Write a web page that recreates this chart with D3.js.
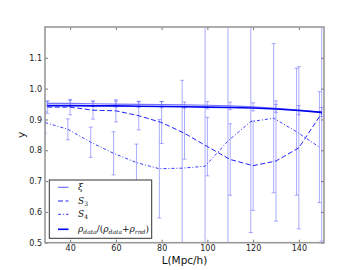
<!DOCTYPE html>
<html lang="en">
<head>
<meta charset="UTF-8">
<title>xi S3 S4</title>
<script src="https://d3js.org/d3.v7.min.js"></script>
<style>
    body { margin: 0; background: #fff; }
    .axis text { font-family: "DejaVu Sans", sans-serif; font-size: 8px; fill: #222; }
    .axis line { stroke: #777; }
    .axis path { display: none; }
</style>
</head>
<body>
<script>
    // data
    const Lvals = [30, 40, 50, 60, 70, 80, 90, 100, 110, 120, 130, 140, 150]
    const xi = [0.952, 0.952, 0.951, 0.950, 0.949, 0.948, 0.947, 0.946, 0.944, 0.941, 0.936, 0.930, 0.924]
    const xiErr = [0.007, 0.010, 0.009, 0.010, 0.010, 0.010, 0.010, 0.012, 0.012, 0.013, 0.013, 0.015, 0.015]
    const s3 = [0.940, 0.940, 0.930, 0.928, 0.912, 0.890, 0.855, 0.812, 0.770, 0.750, 0.765, 0.808, 0.920]
    const s3Err = [0.020, 0.025, 0.029, 0.036, 0.046, 0.068, 0.084, 0.095, 0.116, 0.145, 0.195, 0.263, 0.415]
    const s4 = [0.890, 0.868, 0.826, 0.790, 0.760, 0.740, 0.742, 0.748, 0.830, 0.893, 0.904, 0.860, 0.810]
    const s4Err = [0.035, 0.034, 0.049, 0.070, 0.060, 0.160, 0.285, 0.500, 0.500, 0.360, 0.242, 0.206, 0.180]
    const rho = [0.945, 0.945, 0.944, 0.944, 0.943, 0.942, 0.941, 0.940, 0.939, 0.937, 0.934, 0.929, 0.923]
    const xTicks = [40, 60, 80, 100, 120, 140]
    const yTicks = [0.5, 0.6, 0.7, 0.8, 0.9, 1.0, 1.1]
    const s4Shift = -1

    const width = 360
    const height = 270
    const pLeft = 45, pRight = 324, pTop = 27, pBottom = 242.7

    const x = d3.scaleLinear().domain([29, 151]).range([pLeft, pRight])
    const y = d3.scaleLinear().domain([0.5, 1.2]).range([pBottom, pTop])

    const svg = d3.select("body").append("svg")
        .attr("width", width)
        .attr("height", height)

    svg.append("clipPath").attr("id", "clip")
        .append("rect")
        .attr("x", pLeft).attr("y", pTop)
        .attr("width", pRight - pLeft).attr("height", pBottom - pTop)

    const plot = svg.append("g").attr("clip-path", "url(#clip)")

    const barColor = "rgba(90,90,255,0.5)"

    function errorbars(xs, vals, errs) {
        const g = plot.append("g")
            .attr("stroke", barColor)
            .attr("stroke-width", 1)
        g.selectAll("line.v").data(vals).enter().append("line")
            .attr("x1", (d, i) => x(xs[i]))
            .attr("x2", (d, i) => x(xs[i]))
            .attr("y1", (d, i) => y(d - errs[i]))
            .attr("y2", (d, i) => y(d + errs[i]))
        g.selectAll("line.lo").data(vals).enter().append("line")
            .attr("x1", (d, i) => x(xs[i]) - 2)
            .attr("x2", (d, i) => x(xs[i]) + 2)
            .attr("y1", (d, i) => y(d - errs[i]))
            .attr("y2", (d, i) => y(d - errs[i]))
        g.selectAll("line.hi").data(vals).enter().append("line")
            .attr("x1", (d, i) => x(xs[i]) - 2)
            .attr("x2", (d, i) => x(xs[i]) + 2)
            .attr("y1", (d, i) => y(d + errs[i]))
            .attr("y2", (d, i) => y(d + errs[i]))
    }

    const s4x = Lvals.map(d => d + s4Shift)
    errorbars(Lvals, xi, xiErr)
    errorbars(Lvals, s3, s3Err)
    errorbars(s4x, s4, s4Err)

    function series(xs, vals, color, w, dash) {
        const line = d3.line()
            .x((d, i) => x(xs[i]))
            .y(d => y(d))
        plot.append("path")
            .datum(vals)
            .attr("d", line)
            .attr("fill", "none")
            .attr("stroke", color)
            .attr("stroke-width", w)
            .attr("stroke-dasharray", dash)
    }

    const styles = [
        {color: "#7373ff", w: 1.2, dash: null},
        {color: "#2020ff", w: 1, dash: "5,2.5"},
        {color: "#3a3aff", w: 1, dash: "3,2,1,2"},
        {color: "#0000f0", w: 1.6, dash: null}
    ]
    series(Lvals, xi, styles[0].color, styles[0].w, styles[0].dash)
    series(Lvals, s3, styles[1].color, styles[1].w, styles[1].dash)
    series(s4x, s4, styles[2].color, styles[2].w, styles[2].dash)
    series(Lvals, rho, styles[3].color, styles[3].w, styles[3].dash)

    // axes, ticks pointing inward
    svg.append("g").attr("class", "axis")
        .attr("transform", "translate(0," + pBottom + ")")
        .call(d3.axisBottom(x).tickValues(xTicks).tickSize(-3).tickPadding(2.5))
    svg.append("g").attr("class", "axis")
        .attr("transform", "translate(0," + pTop + ")")
        .call(d3.axisTop(x).tickValues(xTicks).tickSize(-3).tickFormat(""))
    svg.append("g").attr("class", "axis")
        .attr("transform", "translate(" + pLeft + ",0)")
        .call(d3.axisLeft(y).tickValues(yTicks).tickSize(-3).tickPadding(3).tickFormat(d3.format(".1f")))
    svg.append("g").attr("class", "axis")
        .attr("transform", "translate(" + pRight + ",0)")
        .call(d3.axisRight(y).tickValues(yTicks).tickSize(-3).tickFormat(""))

    svg.append("rect")
        .attr("x", pLeft).attr("y", pTop)
        .attr("width", pRight - pLeft).attr("height", pBottom - pTop)
        .attr("fill", "none")
        .attr("stroke", "#999")
        .attr("stroke-width", 1.6)

    svg.append("text")
        .text("L(Mpc/h)")
        .attr("x", (pLeft + pRight) / 2)
        .attr("y", 264)
        .attr("text-anchor", "middle")
        .attr("font-family", "DejaVu Sans, sans-serif")
        .attr("font-size", 10.5)
        .attr("fill", "#111")
    svg.append("text")
        .text("y")
        .attr("transform", "translate(25," + (pTop + pBottom) / 2 + ") rotate(-90)")
        .attr("text-anchor", "middle")
        .attr("font-family", "DejaVu Sans, sans-serif")
        .attr("font-size", 10.5)
        .attr("fill", "#111")

    // legend
    const lg = svg.append("g")
    lg.append("rect")
        .attr("x", 49.3).attr("y", 180)
        .attr("width", 102.4).attr("height", 58.3)
        .attr("fill", "#fff")
        .attr("stroke", "#333")
        .attr("stroke-width", 1)
    const rowsY = [187.3, 201, 214.3, 229.3]
    styles.forEach(function (s, i) {
        lg.append("line")
            .attr("x1", 58).attr("x2", 68.5)
            .attr("y1", rowsY[i]).attr("y2", rowsY[i])
            .attr("stroke", s.color)
            .attr("stroke-width", s.w)
            .attr("stroke-dasharray", s.dash)
    })
    function legText(i) {
        return lg.append("text")
            .attr("x", 78)
            .attr("y", rowsY[i] + 3)
            .attr("font-family", "DejaVu Serif, serif")
            .attr("font-size", 9)
            .attr("fill", "#111")
    }
    legText(0).append("tspan").attr("font-style", "italic").text("ξ")
    const t3 = legText(1)
    t3.append("tspan").attr("font-style", "italic").text("S")
    t3.append("tspan").attr("font-size", 6).attr("dy", 2).text("3")
    const t4 = legText(2)
    t4.append("tspan").attr("font-style", "italic").text("S")
    t4.append("tspan").attr("font-size", 6).attr("dy", 2).text("4")
    const tr = legText(3)
    tr.append("tspan").attr("font-style", "italic").text("ρ")
    tr.append("tspan").attr("font-size", 6).attr("dy", 2).attr("font-style", "italic").text("data")
    tr.append("tspan").attr("dy", -2).text("/(")
    tr.append("tspan").attr("font-style", "italic").text("ρ")
    tr.append("tspan").attr("font-size", 6).attr("dy", 2).attr("font-style", "italic").text("data")
    tr.append("tspan").attr("dy", -2).text("+")
    tr.append("tspan").attr("font-style", "italic").text("ρ")
    tr.append("tspan").attr("font-size", 6).attr("dy", 2).attr("font-style", "italic").text("rnd")
    tr.append("tspan").attr("dy", -2).text(")")
</script>
</body>
</html>
